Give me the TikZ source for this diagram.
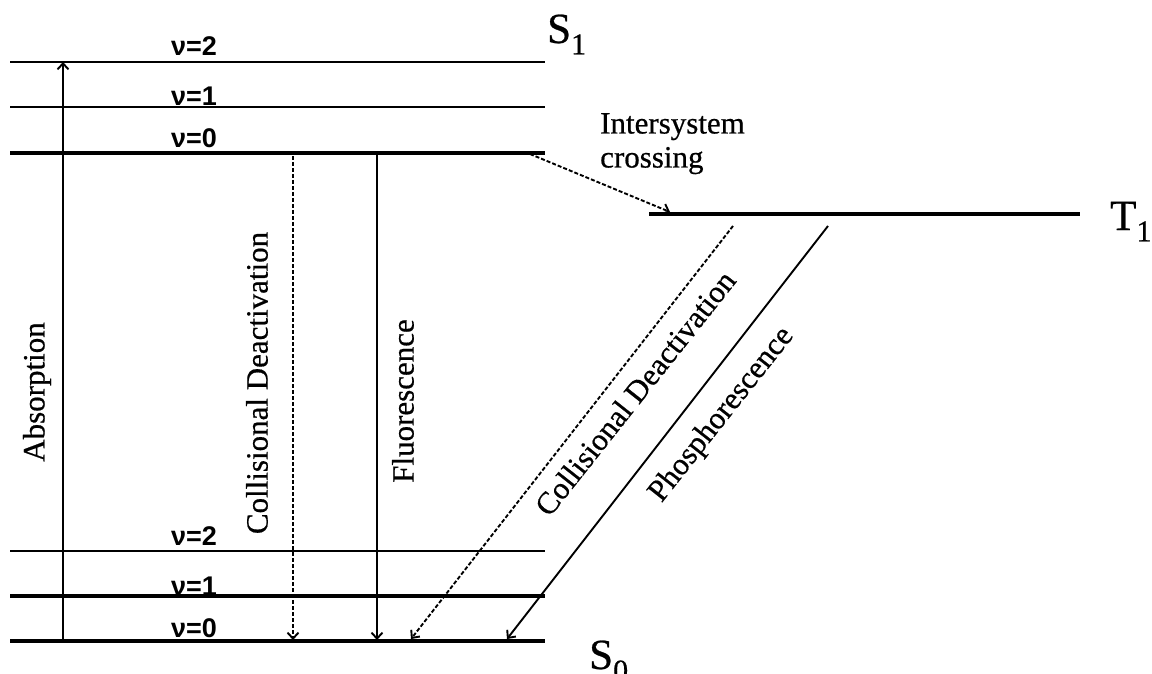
\documentclass[tikz,border=0pt]{standalone}
\usepackage{fontspec}
\setmainfont{Liberation Serif}[FakeBold=0.6]
\newfontfamily\levelfont{Liberation Sans}
\usepackage{tikz}
\usetikzlibrary{arrows.meta}

\begin{document}
\begin{tikzpicture}[x=1pt, y=-1pt,
    level/.style={line width=2.2pt},
    levelthick/.style={line width=3.2pt},
    trans/.style={line width=1.9pt, -{Straight Barb[length=6pt, width=11pt]}},
    nonrad/.style={trans, dash pattern=on 4pt off 2pt},
    vlabel/.style={font=\levelfont\bfseries\fontsize{27}{27}\selectfont, anchor=base, inner sep=0pt},
    plabel/.style={font=\fontsize{31}{34}\selectfont, inner sep=0pt},
    slabel/.style={font=\fontsize{43}{43}\selectfont, anchor=base west, inner sep=0pt}]

    \useasboundingbox (0,0) rectangle (1152,674);

    %% --- Singlet S1 ---
    \draw[level] (10,62) -- (545,62);
    \draw[level] (10,107) -- (545,107);
    \draw[levelthick] (10,153) -- (545,153);
    \node[vlabel] (s1v2) at (194,56) {ν=2};
    \node[vlabel] (s1v1) at (194,106) {ν=1};
    \node[vlabel] (s1v0) at (194,148) {ν=0};
    \node[slabel] (S1) at (547,43) {S\textsubscript{1}};

    %% --- Triplet T1 ---
    \draw[levelthick] (649,214) -- (1080,214);
    \node[slabel] (T1) at (1110,230) {T\textsubscript{1}};

    %% --- Ground state S0 ---
    \draw[level] (10,551) -- (545,551);
    \draw[levelthick] (10,596) -- (545,596);
    \draw[levelthick] (10,641) -- (545,641);
    \node[vlabel] (s0v2) at (194,545) {ν=2};
    \node[vlabel] (s0v1) at (194,595) {ν=1};
    \node[vlabel] (s0v0) at (194,637) {ν=0};
    \node[slabel] (S0) at (589,669) {S\textsubscript{0}};

    %% --- Transition end points ---
    \coordinate (absB) at (63,641);
    \coordinate (absT) at (63,62);
    \coordinate (colT) at (293,156);
    \coordinate (colB) at (293,640);
    \coordinate (fluT) at (377,155);
    \coordinate (fluB) at (377,640);
    \coordinate (iscA) at (530,154);
    \coordinate (iscB) at (670,212);
    \coordinate (tcolT) at (733,226);
    \coordinate (tcolB) at (411,639);
    \coordinate (phoT) at (828,226);
    \coordinate (phoB) at (507,639);

    %% --- Transitions ---
    \draw[trans] (absB) -- (absT);
    \draw[nonrad] (colT) -- (colB);
    \draw[trans] (fluT) -- (fluB);
    \draw[nonrad] (iscA) -- (iscB);
    \draw[nonrad] (tcolT) -- (tcolB);
    \draw[trans] (phoT) -- (phoB);

    %% Labels
    \node[plabel, rotate=90] (abs) at (37,392) {Absorption};
    \node[plabel, rotate=90] (col) at (257,383) {Collisional Deactivation};
    \node[plabel, rotate=90] (flu) at (403,401) {Fluorescence};
    \node[plabel, align=left, anchor=north west] (isc) at (600,113) {Intersystem\\crossing};
    \node[plabel, rotate=51.6] (tcol) at (635,393) {Collisional Deactivation};
    \node[plabel, rotate=51.6] (pho) at (722,415) {Phosphorescence};

\end{tikzpicture}
\end{document}
